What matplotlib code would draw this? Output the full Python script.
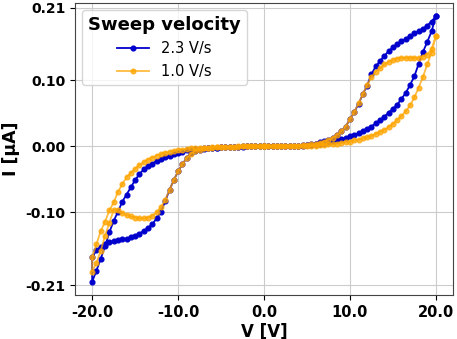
import numpy as np
import matplotlib
matplotlib.use("Agg")
import matplotlib.pyplot as plt

plt.rcParams['axes.unicode_minus'] = False
plt.rcParams['font.family'] = ['DejaVu Sans']

# voltage steps of one half sweep (0 -> 20 V)
v_pos = [0.0, 0.5, 1.0, 1.5, 2.0, 2.5, 3.0, 3.5, 4.0, 4.5,
         5.0, 5.5, 6.0, 6.5, 7.0, 7.5, 8.0, 8.5, 9.0, 9.5,
         10.0, 10.5, 11.0, 11.5, 12.0, 12.5, 13.0, 13.5, 14.0, 14.5,
         15.0, 15.5, 16.0, 16.5, 17.0, 17.5, 18.0, 18.5, 19.0, 19.5,
         20.0]
v_neg = [-v for v in v_pos]

# currents in uA, listed along |V| = 0 ... 20
blue_pos_fwd = [0.000, 0.000, 0.000, 0.000, 0.000, 0.001, 0.001, 0.001, 0.001, 0.001,
                0.002, 0.002, 0.003, 0.004, 0.005, 0.006, 0.008, 0.010, 0.011, 0.013,
                0.015, 0.017, 0.020, 0.023, 0.026, 0.030, 0.035, 0.040, 0.045, 0.051,
                0.057, 0.063, 0.072, 0.081, 0.093, 0.106, 0.125, 0.143, 0.158, 0.174,
                0.197]
blue_pos_ret = [0.000, 0.000, 0.000, 0.000, 0.001, 0.001, 0.001, 0.001, 0.001, 0.002,
                0.002, 0.003, 0.004, 0.006, 0.008, 0.010, 0.013, 0.017, 0.023, 0.030,
                0.041, 0.052, 0.064, 0.079, 0.092, 0.109, 0.121, 0.129, 0.137, 0.144,
                0.150, 0.155, 0.159, 0.163, 0.167, 0.171, 0.174, 0.178, 0.183, 0.189,
                0.197]
blue_neg_fwd = [0.000, 0.000, 0.000, 0.000, 0.000, 0.000, -0.001, -0.001, -0.001, -0.001,
                -0.001, -0.002, -0.002, -0.002, -0.003, -0.004, -0.004, -0.005, -0.006, -0.008,
                -0.010, -0.012, -0.014, -0.016, -0.019, -0.022, -0.026, -0.030, -0.035, -0.042,
                -0.051, -0.062, -0.073, -0.084, -0.099, -0.113, -0.130, -0.151, -0.170, -0.188,
                -0.205]
blue_neg_ret = [0.000, 0.000, 0.000, 0.000, 0.000, -0.001, -0.001, -0.001, -0.001, -0.001,
                -0.001, -0.002, -0.002, -0.003, -0.004, -0.005, -0.007, -0.010, -0.018, -0.027,
                -0.038, -0.051, -0.066, -0.083, -0.099, -0.109, -0.118, -0.123, -0.128, -0.132,
                -0.135, -0.138, -0.140, -0.141, -0.142, -0.143, -0.145, -0.148, -0.152, -0.157,
                -0.168]

orange_pos_fwd = [0.000, 0.000, 0.000, 0.000, 0.000, 0.000, 0.000, 0.000, 0.000, 0.001,
                  0.001, 0.001, 0.001, 0.002, 0.002, 0.003, 0.003, 0.004, 0.005, 0.006,
                  0.007, 0.009, 0.010, 0.012, 0.014, 0.016, 0.019, 0.022, 0.025, 0.029,
                  0.034, 0.040, 0.046, 0.053, 0.062, 0.074, 0.089, 0.105, 0.124, 0.142,
                  0.167]
orange_pos_ret = [0.000, 0.000, 0.000, 0.000, 0.000, 0.001, 0.001, 0.001, 0.001, 0.002,
                  0.002, 0.003, 0.004, 0.005, 0.007, 0.010, 0.013, 0.017, 0.023, 0.030,
                  0.041, 0.052, 0.065, 0.079, 0.093, 0.105, 0.113, 0.118, 0.124, 0.128,
                  0.131, 0.133, 0.134, 0.134, 0.134, 0.134, 0.134, 0.136, 0.139, 0.147,
                  0.167]
orange_neg_fwd = [0.000, 0.000, 0.000, 0.000, 0.000, 0.000, 0.000, -0.001, -0.001, -0.001,
                  -0.001, -0.001, -0.001, -0.002, -0.002, -0.002, -0.003, -0.003, -0.004, -0.005,
                  -0.006, -0.007, -0.008, -0.010, -0.012, -0.014, -0.017, -0.020, -0.024, -0.028,
                  -0.034, -0.040, -0.047, -0.057, -0.069, -0.085, -0.097, -0.114, -0.128, -0.148,
                  -0.168]
orange_neg_ret = [0.000, 0.000, 0.000, 0.000, 0.000, 0.000, -0.001, -0.001, -0.001, -0.001,
                  -0.001, -0.001, -0.002, -0.002, -0.003, -0.005, -0.007, -0.011, -0.018, -0.027,
                  -0.038, -0.051, -0.066, -0.081, -0.092, -0.100, -0.105, -0.108, -0.109, -0.109,
                  -0.108, -0.106, -0.104, -0.101, -0.097, -0.096, -0.116, -0.135, -0.158, -0.176,
                  -0.190]

labels = ["2.3 V/s", "1.0 V/s"]
x_ticks = [-20, -10, 0, 10, 20]
y_ticks = [-0.21, -0.10, 0.00, 0.10, 0.21]


def full_cycle(pf, pr, nf, nr):
    # 0 -> 20 -> 0 -> -20 -> 0
    v = v_pos + v_pos[::-1] + v_neg + v_neg[::-1]
    i = pf + pr[::-1] + nf + nr[::-1]
    return np.array(v), np.array(i)


fig = plt.figure(figsize=(4.57, 3.39), dpi=100)
ax = fig.add_axes([75 / 457, 1 - 295 / 339, 378 / 457, 292 / 339])

vb, ib = full_cycle(blue_pos_fwd, blue_pos_ret, blue_neg_fwd, blue_neg_ret)
vo, io = full_cycle(orange_pos_fwd, orange_pos_ret, orange_neg_fwd, orange_neg_ret)

ax.plot(vb, ib, '-o', color='#0000cd', lw=1.3, ms=3.4, label=labels[0], zorder=3)
ax.plot(vo, io, '-o', color='orange', lw=1.3, ms=3.4, alpha=0.75, label=labels[1], zorder=4)

ax.set_xticks(x_ticks)
ax.set_xticklabels(["%.1f" % t for t in x_ticks])
ax.set_yticks(y_ticks)
ax.set_yticklabels(["%.2f" % t for t in y_ticks])
for lab in ax.get_xticklabels():
    lab.set_fontweight('bold')
    lab.set_fontsize(10.5)
for lab in ax.get_yticklabels():
    lab.set_fontweight('bold')
    lab.set_fontsize(10)

ax.set_xlabel("V [V]", fontsize=12, fontweight='bold', labelpad=2)
ax.set_ylabel("I [µA]", fontsize=12.5, fontweight='bold', labelpad=4)
ax.grid(True, color='#cccccc', lw=0.8)
ax.set_axisbelow(True)

for s in ax.spines.values():
    s.set_color('#444444')

leg = ax.legend(loc='upper left', title="Sweep velocity", fontsize=10.5,
                title_fontproperties={'weight': 'bold', 'size': 13},
                handlelength=2.2)

fig.savefig("out.png", dpi=100)
